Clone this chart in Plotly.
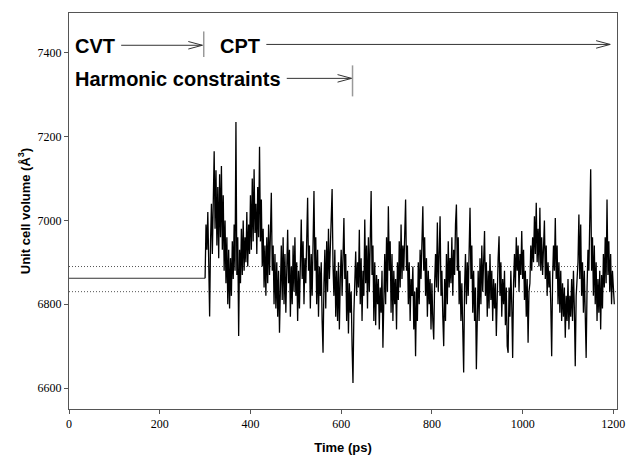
import plotly.graph_objects as go

# ---- data ----
flat_level = 6862          # CVT stage volume (0-300 ps)
flat_times = [0, 300]
time_step = 2              # ps between sampled points in CPT stage
cpt_start = 302
volume = [
    6990, 6930, 7020, 6900, 6771, 6950, 7040, 6920, 7090, 7165,
    6980, 7120, 6940, 7080, 6910, 7110, 6960, 7130, 6930, 7060,
    6880, 7000, 6850, 6960, 6800, 6930, 6790, 6910, 6820, 6950,
    6860, 6990, 6880, 7235, 6870, 6960, 6724, 6930, 6850, 6980,
    6870, 7000, 6880, 6960, 6900, 7020, 6890, 6990, 6920, 7060,
    6930, 7100, 6950, 7122, 6970, 7040, 6920, 7080, 6960, 7176,
    6950, 7050, 6890, 6980, 6840, 6940, 6820, 6960, 6850, 6990,
    6870, 6950, 7066, 6880, 6940, 6800, 6920, 6790, 6900, 6770,
    6880, 6732, 6860, 6940, 6810, 6960, 6800, 6920, 6780, 6940,
    6978, 6850, 6930, 6770, 6890, 6800, 6940, 6830, 6960, 6820,
    6900, 6760, 6880, 6790, 6930, 7002, 6860, 6950, 6800, 6910,
    6850, 6980, 7054, 6880, 6940, 6790, 6920, 6820, 6990, 7070,
    6880, 6960, 6800, 6930, 6770, 6890, 6820, 6900, 6760, 6684,
    6850, 6930, 6790, 6950, 6830, 6980, 6860, 6940, 6990, 7075,
    6890, 6820, 6930, 6770, 6880, 6760, 6900, 6740, 6860, 6930,
    6820, 6950, 7006, 6860, 6920, 6760, 6880, 6730, 6850, 6780,
    6830, 6700, 6612, 6780, 6880, 6926, 6820, 6900, 6840, 6978,
    6800, 6910, 6760, 6880, 6820, 7002, 6850, 6940, 6790, 6960,
    6830, 6990, 7070, 6870, 6940, 6760, 6900, 6750, 6870, 6800,
    6860, 6740, 6840, 6780, 6880, 6696, 6850, 6920, 6800, 6960,
    6830, 7034, 6880, 6950, 6780, 6920, 6760, 6880, 6800, 6860,
    6740, 6900, 6810, 6950, 6840, 6990, 6860, 6940, 6880, 7000,
    7050, 6880, 6940, 6800, 6900, 6760, 6860, 6820, 6890, 6740,
    6830, 6676, 6840, 6760, 6900, 6800, 6930, 6860, 6990, 7034,
    6880, 6960, 6820, 6910, 6770, 6880, 6800, 6860, 6740, 6850,
    6760, 6716, 6850, 6920, 6840, 6995, 6830, 6940, 7010, 6820,
    6880, 6770, 6700, 6860, 6760, 6920, 6800, 6950, 6840, 6910,
    6850, 6960, 6820, 6930, 6870, 6990, 7038, 6880, 6960, 6800,
    6880, 6760, 6850, 6740, 6637, 6840, 6920, 6800, 6900, 6820,
    6960, 7030, 6860, 6940, 6780, 6880, 6760, 6840, 6645, 6800,
    6880, 6760, 6910, 6800, 6940, 6830, 6920, 6975, 6820, 6900,
    6770, 6880, 6790, 6920, 6810, 6880, 6760, 6860, 6790, 6850,
    6724, 6860, 6910, 6962, 6820, 6900, 6770, 6860, 6800, 6880,
    6750, 6840, 6700, 6684, 6840, 6770, 6880, 6800, 6672, 6850,
    6920, 6840, 6960, 6880, 6940, 6830, 6920, 6870, 6975, 6860,
    6930, 6810, 6880, 6770, 6860, 6708, 6830, 6850, 6940, 6880,
    6960, 6900, 7010, 6920, 7042, 6900, 6980, 6890, 7030, 6880,
    6960, 6870, 6940, 7000, 6860, 6940, 6820, 6900, 6840, 6880,
    6800, 6676, 6860, 6940, 6880, 7006, 6860, 6940, 6800, 6900,
    6780, 6880, 6760, 6850, 6770, 6840, 6720, 6820, 6760, 6860,
    6740, 6820, 6770, 6860, 6760, 6880, 6790, 6652, 6820, 6880,
    6900, 7014, 6860, 6990, 6820, 6900, 6780, 6880, 6760, 6672,
    6840, 6930, 6880, 7050, 7122, 6880, 6960, 6820, 6940, 6800,
    6900, 6760, 6860, 6780, 6880, 6740, 6870, 6790, 6920, 6840,
    6960, 6850, 7050, 6870, 6950, 6830, 6920, 6800, 6880, 6840,
    6800,
]
ref_upper = 6890
ref_lower = 6830

x_range = [0, 1208]
y_range = [6550, 7495]
x_ticks = [0, 200, 400, 600, 800, 1000, 1200]
y_ticks = [6600, 6800, 7000, 7200, 7400]

cpt_times = [cpt_start + time_step * i for i in range(len(volume))]

fig = go.Figure()
# CVT stage (constant volume)
fig.add_trace(go.Scatter(x=flat_times, y=[flat_level, flat_level], mode="lines",
                         line=dict(color="#333333", width=1),
                         showlegend=False, hoverinfo="skip"))
# CPT stage (joined to the end of CVT stage)
fig.add_trace(go.Scatter(x=[flat_times[-1]] + cpt_times, y=[flat_level] + volume, mode="lines",
                         line=dict(color="#000000", width=1.3),
                         showlegend=False, hoverinfo="skip"))

# reference dotted lines
for lvl in (ref_upper, ref_lower):
    fig.add_shape(type="line", xref="paper", yref="y", x0=0, x1=1, y0=lvl, y1=lvl,
                  line=dict(color="#555555", width=1, dash="1px,2px"), layer="below")

shapes = []
def arrow(x0, x1, y):
    shapes.append(dict(type="line", xref="x", yref="y", x0=x0, x1=x1, y0=y, y1=y,
                       line=dict(color="#333333", width=1)))
    shapes.append(dict(type="path", xref="x", yref="y",
                       path=f"M {x1-31},{y+9} L {x1},{y} L {x1-31},{y-9}",
                       line=dict(color="#333333", width=1)))
def vbar(x, y0, y1):
    shapes.append(dict(type="line", xref="x", yref="y", x0=x, x1=x, y0=y0, y1=y1,
                       line=dict(color="#999999", width=1.5)))

arrow(115, 294, 7418)
vbar(297, 7390, 7451)
arrow(435, 1193, 7420)
arrow(480, 623, 7339)
vbar(625, 7296, 7370)
for s in shapes:
    fig.add_shape(**s)

ann_font = dict(family="Liberation Sans, Arial, sans-serif", size=20, color="#000000")
for txt, x, y in [("<b>CVT</b>", 9, 7416), ("<b>CPT</b>", 328, 7416),
                  ("<b>Harmonic constraints</b>", 9, 7338)]:
    fig.add_annotation(text=txt, x=x, y=y, xref="x", yref="y", showarrow=False,
                       xanchor="left", yanchor="middle", font=ann_font)

tick_font = dict(family="Liberation Serif, Times New Roman, serif", size=12, color="#000000")
title_font = dict(family="Liberation Sans, Arial, sans-serif", size=13, color="#000000")

fig.update_xaxes(range=x_range, tickvals=x_ticks, ticks="outside", ticklen=4,
                 tickcolor="#555555", showgrid=False, zeroline=False,
                 showline=True, linecolor="#555555", linewidth=1, mirror=True,
                 tickfont=tick_font, automargin=False,
                 title=dict(text="<b>Time (ps)</b>", font=title_font, standoff=12))
fig.update_yaxes(range=y_range, tickvals=y_ticks, ticks="outside", ticklen=4,
                 tickcolor="#555555", showgrid=False, zeroline=False,
                 showline=True, linecolor="#555555", linewidth=1, mirror=True,
                 tickfont=tick_font, automargin=False,
                 title=dict(text="<b>Unit cell volume (Å<sup>3</sup>)</b>", font=title_font, standoff=4))

fig.update_layout(width=626, height=456, margin=dict(l=69, r=9, t=13, b=47),
                  plot_bgcolor="white", paper_bgcolor="white")
fig.write_html("out.html", config={"displayModeBar": False},
               post_script="document.body.style.margin='0px';")
